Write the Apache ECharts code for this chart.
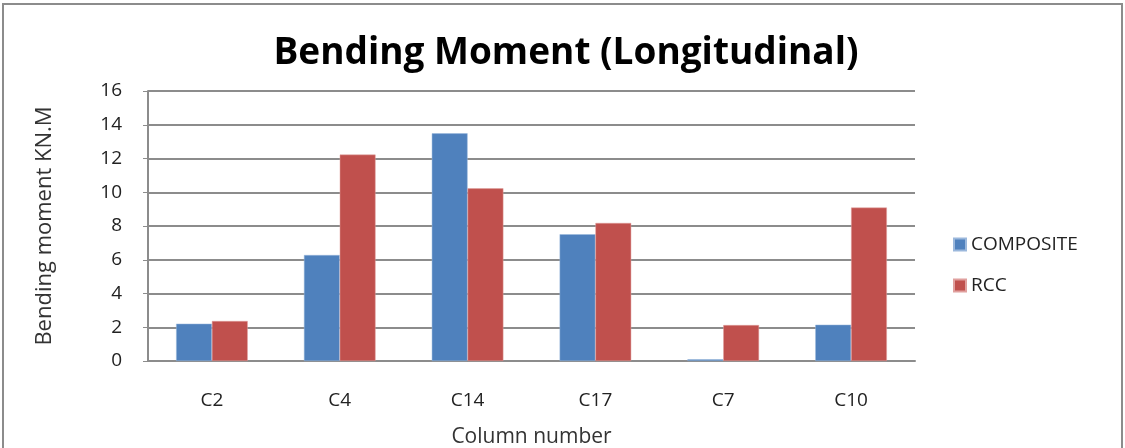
<!DOCTYPE html>
<html>
<head>
<meta charset="utf-8">
<script src="https://cdn.jsdelivr.net/npm/echarts@6/dist/echarts.min.js"></script>
<style>
  html, body { margin: 0; padding: 0; background: #fff; }
  #chart { width: 1125px; height: 448px; }
</style>
</head>
<body>
<div id="chart"></div>
<script>
// ── Data ──────────────────────────────────────────────────────────────────────
const categories = ['C2', 'C4', 'C14', 'C17', 'C7', 'C10'];
const composite  = [2.21, 6.28, 13.49, 7.51, 0.1, 2.15];
const rcc        = [2.37, 12.23, 10.23, 8.18, 2.13, 9.09];
const seriesNames = ['COMPOSITE', 'RCC'];

const FONT = '"Open Sans", "Liberation Sans", sans-serif';
const chart = echarts.init(document.getElementById('chart'), null, { renderer: 'canvas' });

chart.setOption({
  animation: false,
  backgroundColor: '#fff',
  color: ['#4F81BD', '#C0504D'],
  graphic: [{
    type: 'rect',
    shape: { x: 3, y: 4, width: 1119, height: 450 },
    style: { fill: 'none', stroke: '#8c8c8c', lineWidth: 2 },
    silent: true
  }],
  title: {
    text: 'Bending Moment (Longitudinal)',
    left: 561, top: 30, textAlign: 'center',
    textStyle: { fontFamily: '"Open Sans", sans-serif', fontSize: 37, fontWeight: 'bold', color: '#000' }
  },
  legend: {
    orient: 'vertical',
    left: 948, top: 230,
    itemWidth: 12, itemHeight: 12, itemGap: 22,
    icon: 'rect',
    textStyle: { fontFamily: FONT, fontSize: 19, color: '#222' },
    data: seriesNames
  },
  grid: { left: 148, right: 210, top: 91, bottom: 87, containLabel: false, outerBoundsMode: 'none' },
  xAxis: {
    type: 'category',
    data: categories,
    name: 'Column number',
    nameLocation: 'middle',
    nameGap: 66,
    nameTextStyle: { fontFamily: FONT, fontSize: 21, color: '#333' },
    axisLine: { lineStyle: { color: '#8c8c8c', width: 2 } },
    axisTick: { show: false },
    axisLabel: { fontFamily: FONT, fontSize: 19, color: '#222', margin: 30 }
  },
  yAxis: {
    type: 'value',
    min: 0, max: 16, interval: 2,
    name: 'Bending moment KN.M',
    nameLocation: 'middle',
    nameGap: 92,
    nameRotate: 90,
    nameTextStyle: { fontFamily: FONT, fontSize: 22, color: '#333' },
    axisLine: { show: true, lineStyle: { color: '#8c8c8c', width: 2 } },
    axisTick: { show: true, length: 5, lineStyle: { color: '#8c8c8c' } },
    axisLabel: { fontFamily: FONT, fontSize: 19, color: '#222', margin: 26 },
    splitLine: { lineStyle: { color: '#8c8c8c', width: 2 } }
  },
  series: [
    { name: seriesNames[0], type: 'bar', data: composite, barGap: '0%', barCategoryGap: '44%',
      itemStyle: { borderColor: '#9bb8dc', borderWidth: 0.5 } },
    { name: seriesNames[1], type: 'bar', data: rcc, barGap: '0%', barCategoryGap: '44%',
      itemStyle: { borderColor: '#e0a09e', borderWidth: 0.5 } }
  ]
});
</script>
</body>
</html>
